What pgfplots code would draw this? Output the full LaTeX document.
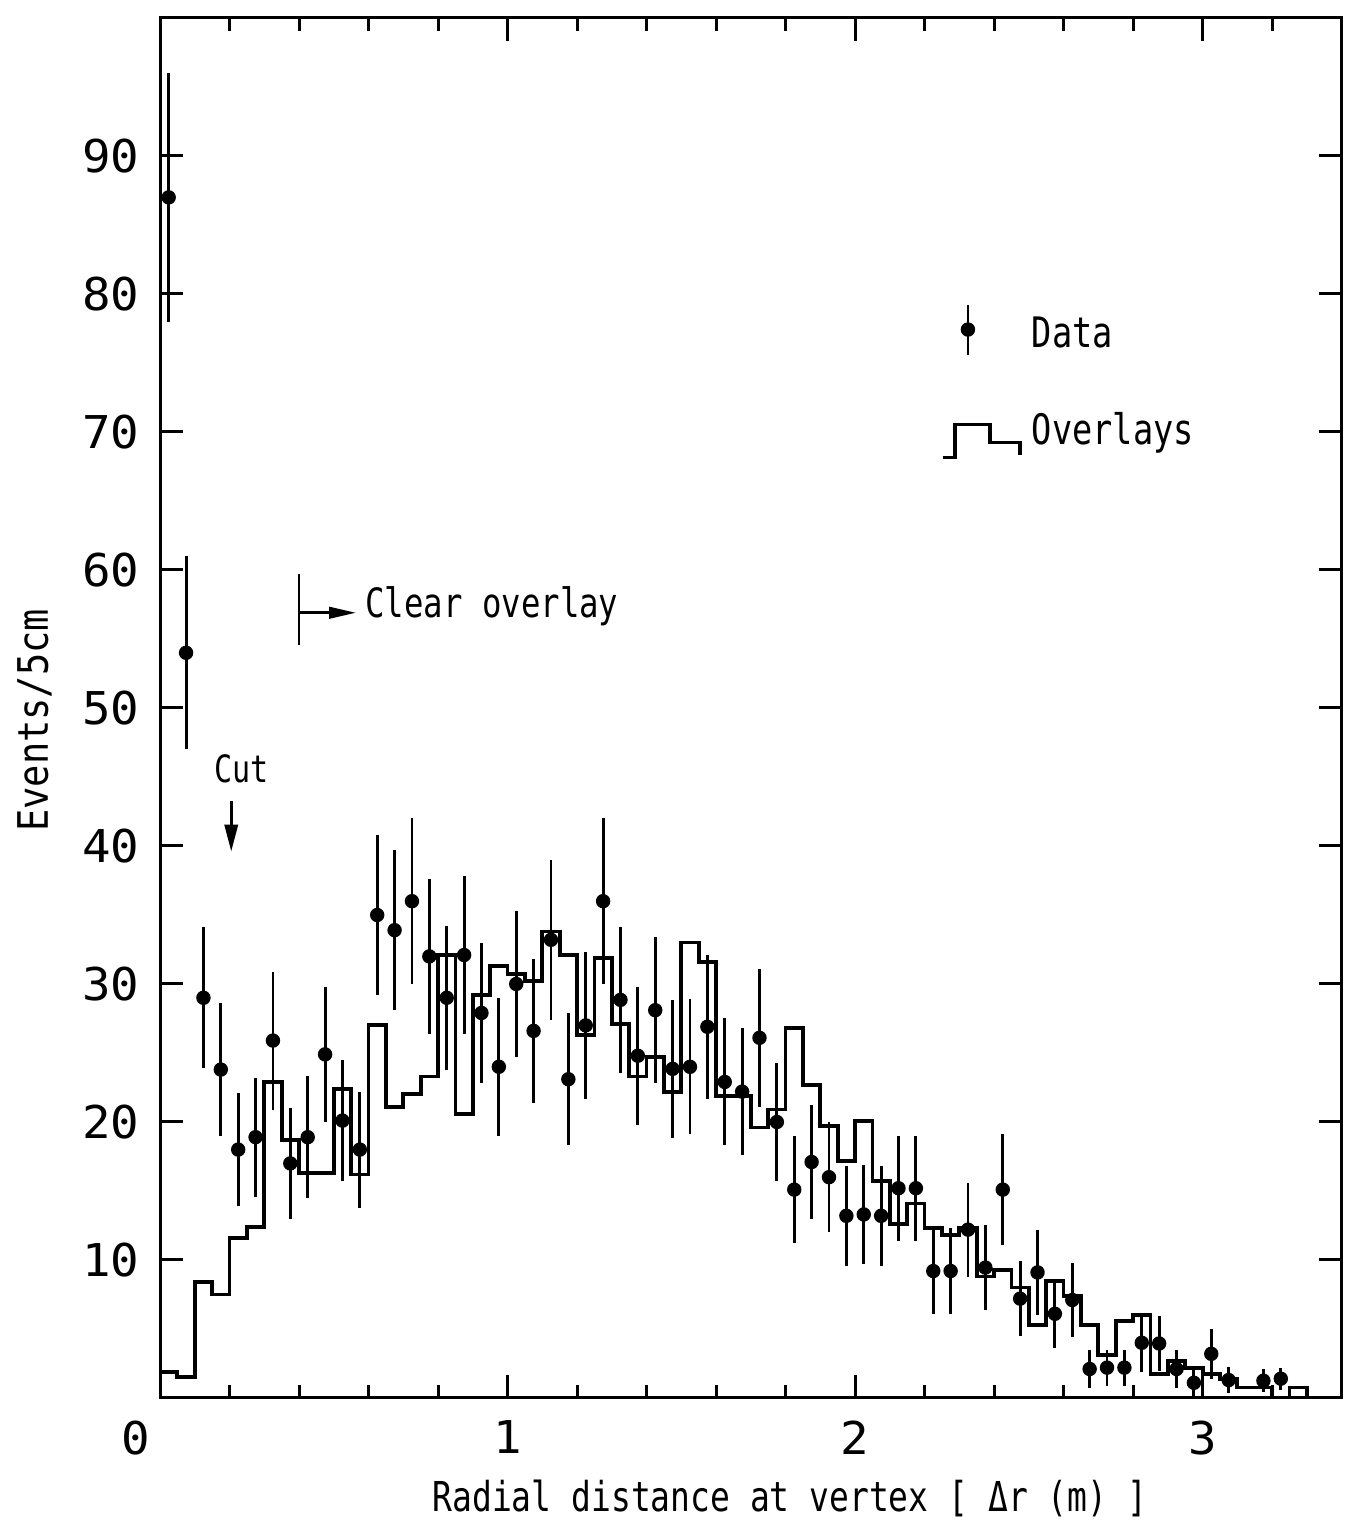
\documentclass[border=0pt]{standalone}
\usepackage{pgfplots}
\pgfplotsset{compat=1.18}
\usepackage{pgfplotstable}
\usepackage{fontspec}
\setmainfont{DejaVu Sans Mono}[FakeStretch=0.8]
\newfontfamily\tickfont{DejaVu Sans Mono}[FakeStretch=1.05]
\newfontfamily\ylfont{DejaVu Sans Mono}[FakeStretch=0.88]
\usetikzlibrary{arrows.meta}
\newcommand{\fs}{\fontsize{10.5}{12.6}\selectfont}
\newcommand{\tfs}{\tickfont\fontsize{11.3}{13}\selectfont}

\pgfplotstableread{
x y e
0.025 87.0 9.0
0.075 54.0 7.0
0.125 29.0 5.1
0.175 23.8 4.8
0.225 18.0 4.1
0.275 18.9 4.3
0.325 25.9 5.0
0.375 17.0 4.0
0.425 18.9 4.4
0.475 24.9 4.9
0.525 20.1 4.4
0.575 18.0 4.2
0.625 35.0 5.8
0.675 33.9 5.8
0.725 36.0 6.0
0.775 32.0 5.6
0.825 29.0 5.2
0.875 32.1 5.7
0.925 27.9 5.1
0.975 24.0 5.0
1.025 30.0 5.3
1.075 26.6 5.2
1.125 33.2 5.8
1.175 23.1 4.8
1.225 27.0 5.3
1.275 36.0 6.0
1.325 28.85 5.3
1.375 24.8 5.0
1.425 28.1 5.3
1.475 23.85 5.0
1.525 24.0 4.9
1.575 26.9 5.2
1.625 22.9 4.6
1.675 22.2 4.6
1.725 26.1 5.0
1.775 20.0 4.3
1.825 15.1 3.9
1.875 17.1 4.1
1.925 16.0 4.0
1.975 13.2 3.6
2.025 13.3 3.6
2.075 13.2 3.6
2.125 15.2 3.8
2.175 15.2 3.8
2.225 9.2 3.1
2.275 9.2 3.1
2.325 12.2 3.4
2.375 9.45 3.1
2.425 15.1 4.0
2.475 7.2 2.7
2.525 9.1 3.1
2.575 6.1 2.5
2.625 7.1 2.7
2.675 2.1 1.35
2.725 2.2 1.3
2.775 2.2 1.3
2.825 4.0 2.1
2.875 3.95 2.0
2.925 2.1 1.4
2.975 1.1 1.0
3.025 3.2 1.8
3.075 1.3 0.95
3.175 1.25 0.85
3.225 1.4 0.8
}\datatab

\begin{document}
\begin{tikzpicture}[font=\fs]
\begin{axis}[
  width=295.4pt, height=345pt, scale only axis,
  xmin=0, xmax=3.4, ymin=0, ymax=100,
  axis line style={line width=0.75pt},
  xtick={1,2,3},
  minor xtick={0.2,0.4,0.6,0.8,1.2,1.4,1.6,1.8,2.2,2.4,2.6,2.8,3.2},
  extra x ticks={0},
  extra x tick style={major tick length=0pt, xticklabel style={xshift=-6pt}},
  ytick={10,20,...,90},
  major tick length=5.75pt, minor tick length=3.25pt,
  tick style={line width=0.75pt, black},
  tick align=inside,
  /pgf/number format/assume math mode=true,
  xticklabel style={inner sep=0pt, yshift=-5.5pt, font=\tfs},
  yticklabel style={inner sep=0pt, xshift=-5pt, font=\tfs},
  xlabel={Radial distance at vertex [ Δr (m) ]},
  xlabel style={at={(axis description cs:0.533,-0.0826)}, anchor=base, inner sep=0pt, font=\fontsize{10.3}{12}\selectfont},
  ylabel={Events/5cm},
  ylabel style={at={(axis description cs:-0.0948,0.491)}, anchor=base, inner sep=0pt, font=\ylfont\fontsize{10.5}{12.6}\selectfont},
  legend style={at={(axis description cs:0.661,0.7934)}, anchor=north west, draw=none, fill=none,
    inner sep=0pt, outer sep=0pt, column sep=0pt, row sep=10.75pt, font=\fs,
    cells={anchor=base west, inner sep=0pt, text height=8pt, text depth=2.5pt}},
]
\addplot[only marks, mark=*, mark size=1.6pt, black,
  error bars/.cd, y dir=both, y explicit, error mark=none,
  error bar style={line width=0.72pt, black},
  /pgfplots/legend image code/.code={
    \path[draw=none, fill=none] (0pt,-2pt) rectangle (20.25pt,11pt);
    \draw[line width=0.72pt, black] (6.25pt,-1.75pt) -- (6.25pt,10.75pt);
    \fill[black] (6.25pt,4.5pt) circle (1.6pt);}]
  table[x=x, y=y, y error=e] {\datatab};
\addlegendentry{Data}

\addplot[const plot, line width=0.95pt, black,
  legend image code/.code={
    \path[draw=none, fill=none] (0pt,-3.5pt) rectangle (20.25pt,5.5pt);
    \draw[line width=0.95pt, black] (0pt,-3.25pt) -- (3pt,-3.25pt) -- (3pt,5pt) -- (11.75pt,5pt)
      -- (11.75pt,0.5pt) -- (19.25pt,0.5pt) -- (19.25pt,-2.5pt);}] coordinates {
(0,1.9) (0.05,1.55) (0.1,8.4) (0.15,7.5) (0.2,11.6) (0.25,12.4) (0.3,22.9) (0.35,18.7)
(0.4,16.3) (0.45,16.3) (0.5,22.4) (0.55,16.2) (0.6,27.0) (0.65,21.1) (0.7,22.0) (0.75,23.3)
(0.8,32.1) (0.85,20.6) (0.9,29.2) (0.95,31.3) (1.0,30.7) (1.05,30.2) (1.1,33.8) (1.15,32.1)
(1.2,26.3) (1.25,31.9) (1.3,27.1) (1.35,23.3) (1.4,24.7) (1.45,22.2) (1.5,33.0) (1.55,31.6)
(1.6,21.9) (1.65,21.9) (1.7,19.6) (1.75,20.9) (1.8,26.8) (1.85,22.7) (1.9,19.7) (1.95,17.2)
(2.0,20.1) (2.05,15.7) (2.1,12.6) (2.15,14.1) (2.2,12.3) (2.25,11.8) (2.3,12.3) (2.35,8.8)
(2.4,9.3) (2.45,8.0) (2.5,5.3) (2.55,8.5) (2.6,7.4) (2.65,5.3) (2.7,3.1) (2.75,5.6)
(2.8,6.0) (2.85,1.75) (2.9,2.7) (2.95,2.15) (3.0,1.75) (3.05,1.4) (3.1,0.76) (3.15,0.76)
(3.2,0) (3.25,0.76) (3.3,0)
};
\addlegendentry{Overlays}

% annotations
\draw[line width=0.7pt] (axis cs:0.4,59.7) -- (axis cs:0.4,54.6);
\draw[line width=0.7pt, -{Triangle[length=6.7pt,width=2.85pt]}] (axis cs:0.4,56.9) -- (axis cs:0.564,56.9);
\node[anchor=base west, inner sep=0pt, font=\fontsize{10.1}{11}\selectfont] at (axis cs:0.589,56.55) {Clear overlay};
\node[anchor=base west, inner sep=0pt, font=\fontsize{9.4}{11}\selectfont] at (axis cs:0.155,44.6) {Cut};
\draw[line width=0.7pt, -{Triangle[length=6.7pt,width=3.3pt]}] (axis cs:0.205,43.25) -- (axis cs:0.205,39.6);

\coordinate (O) at (rel axis cs:0,0);
\coordinate (TR) at (rel axis cs:1,1);
\end{axis}
\pgfresetboundingbox
\path ([shift={(-40pt,-32.5pt)}]O) rectangle ([shift={(2.1pt,4.5pt)}]TR);
\end{tikzpicture}
\end{document}
